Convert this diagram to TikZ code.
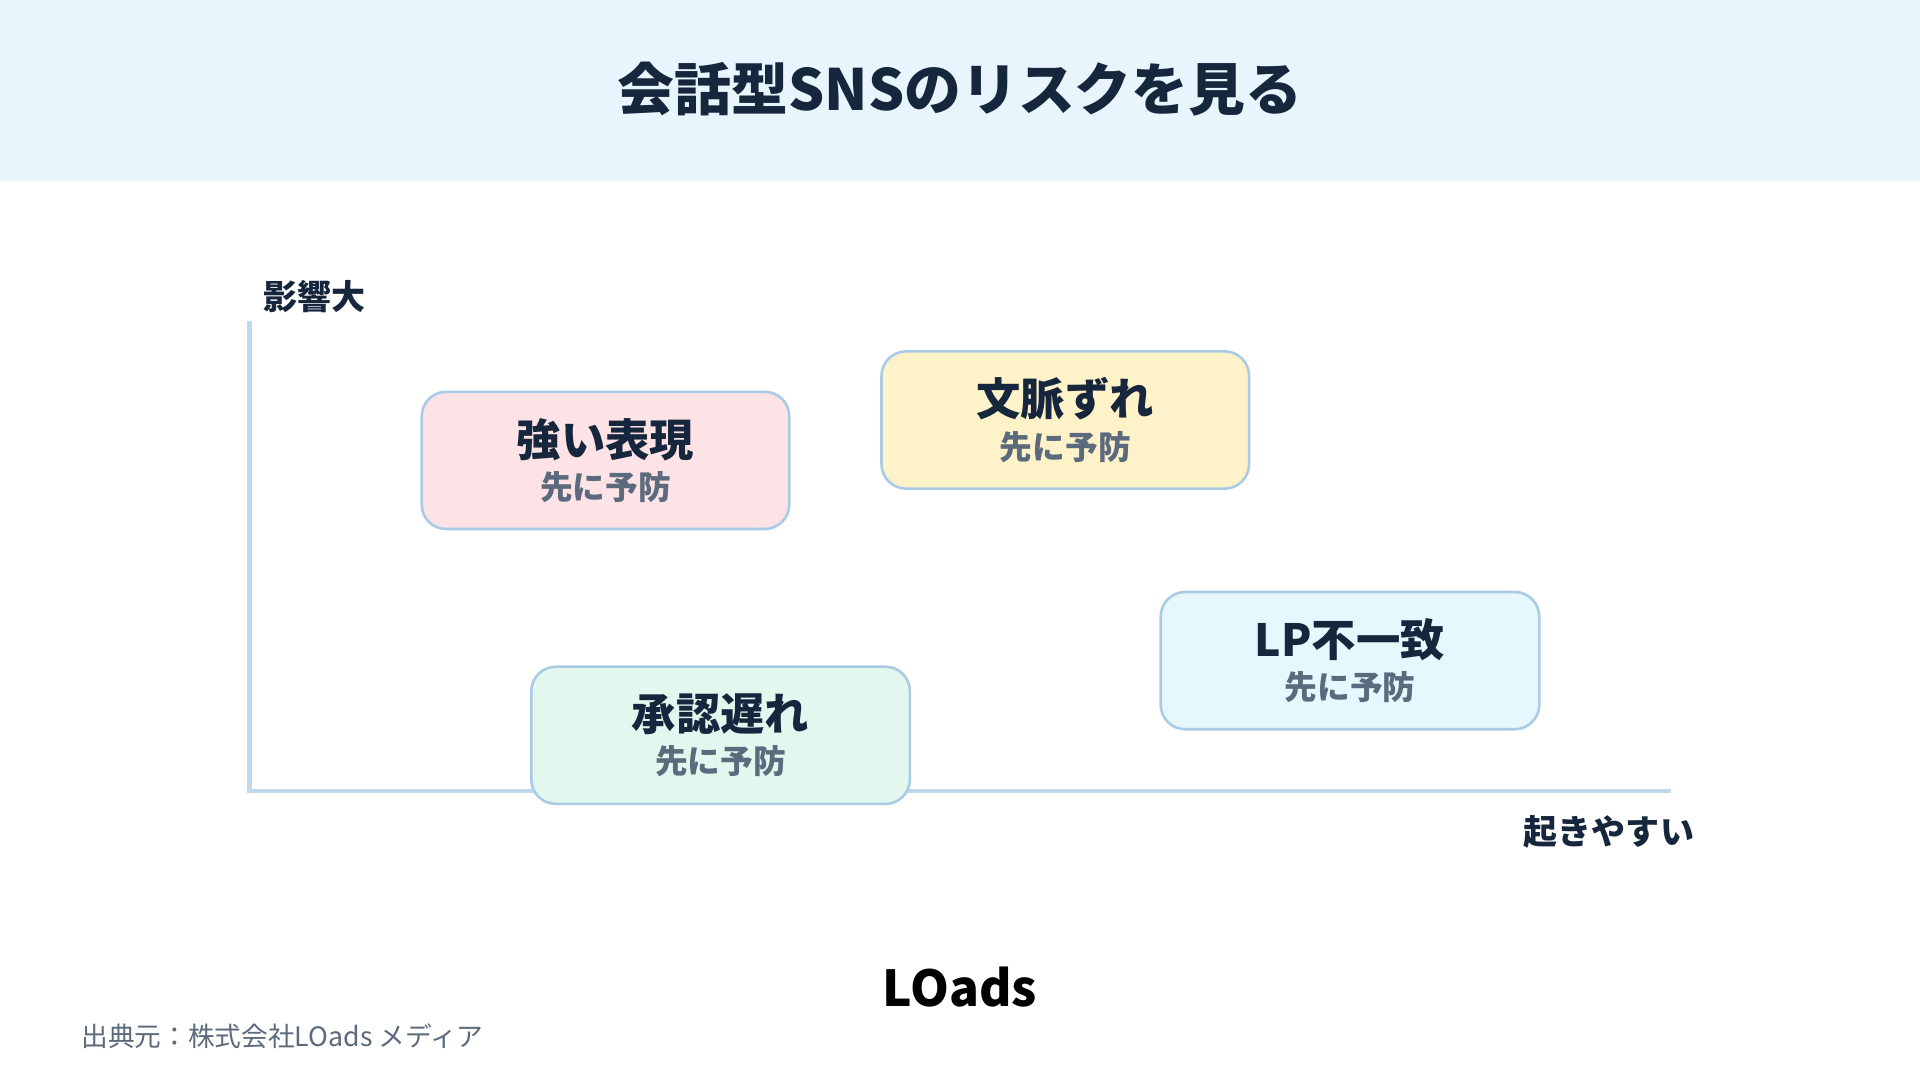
\documentclass[tikz,border=0pt]{standalone}
\usepackage{fontspec}
\setmainfont{Noto Sans CJK JP}
\usepackage{xcolor}
\usepackage{tikz}
\definecolor{navy}{HTML}{16263D}
\definecolor{subgray}{HTML}{5B6A7C}
\definecolor{band}{HTML}{E8F5FD}
\definecolor{axis}{HTML}{BFD9EA}
\definecolor{edge}{HTML}{A9CBE6}
\definecolor{pinkbox}{HTML}{FDE2E6}
\definecolor{yellowbox}{HTML}{FEF2C9}
\definecolor{bluebox}{HTML}{E6F7FD}
\definecolor{greenbox}{HTML}{E2F7EE}

\begin{document}
\begin{tikzpicture}[x=0.01cm, y=-0.01cm,
    risk/.style={draw=edge, line width=0.6pt, rounded corners=0.2cm, minimum width=3.0cm, minimum height=1.12cm, align=center, inner sep=0pt}]
    \useasboundingbox (0, 0) rectangle (1568, 882);
    \fill[band] (0, 0) rectangle (1568, 148);
    \node[text=navy, font=\bfseries\fontsize{13.2}{15}\selectfont] at (784, 73) (title) {会話型SNSのリスクを見る};

    \coordinate (origin) at (204, 646);
    \coordinate (ytop) at (204, 262);
    \coordinate (xend) at (1365, 646);
    \draw[axis, line width=1.1pt] (ytop) -- (origin) -- (xend);
    \node[text=navy, font=\bfseries\fontsize{7.9}{9}\selectfont] at (257, 242) (ylabel) {影響大};
    \node[text=navy, font=\bfseries\fontsize{7.9}{9}\selectfont] at (1314, 679) (xlabel) {起きやすい};

    \node[risk, fill=pinkbox] at (494.5, 376) (strong) {{\color{navy}\bfseries\fontsize{10.3}{12}\selectfont 強い表現}\\[-2pt]{\color{subgray}\bfseries\fontsize{7.6}{9}\selectfont 先に予防}};
    \node[risk, fill=yellowbox] at (870, 343) (context) {{\color{navy}\bfseries\fontsize{10.3}{12}\selectfont 文脈ずれ}\\[-2pt]{\color{subgray}\bfseries\fontsize{7.6}{9}\selectfont 先に予防}};
    \node[risk, fill=bluebox, minimum width=3.09cm] at (1102.5, 539.5) (lp) {{\color{navy}\bfseries\fontsize{10.3}{12}\selectfont LP不一致}\\[-2pt]{\color{subgray}\bfseries\fontsize{7.6}{9}\selectfont 先に予防}};
    \node[risk, fill=greenbox, minimum width=3.09cm] at (588.5, 600.5) (approval) {{\color{navy}\bfseries\fontsize{10.3}{12}\selectfont 承認遅れ}\\[-2pt]{\color{subgray}\bfseries\fontsize{7.6}{9}\selectfont 先に予防}};

    \node[text=black, font=\bfseries\fontsize{11.5}{13}\selectfont] at (784, 806) (logo) {LOads};
    \node[text=subgray, anchor=west, font=\fontsize{6.2}{7}\selectfont] at (54, 846) (source) {出典元：株式会社LOads メディア};
\end{tikzpicture}
\end{document}
